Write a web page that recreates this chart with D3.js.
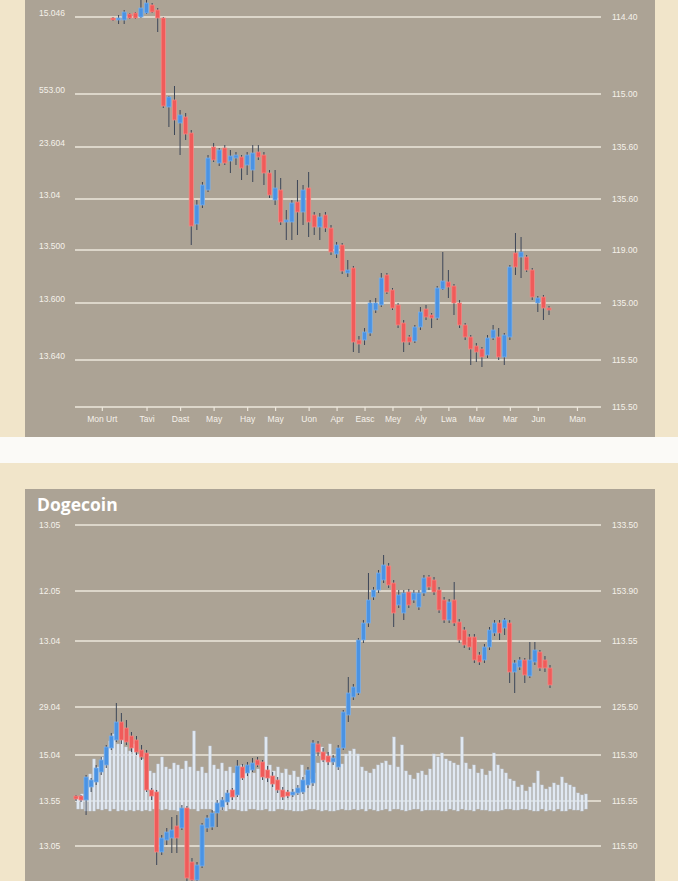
<!DOCTYPE html>
<html><head><meta charset="utf-8">
<script src="https://cdn.jsdelivr.net/npm/d3@7"></script>
<style>html,body{margin:0;padding:0;background:#f1e5ca;}svg{display:block;}</style>
</head><body>
<script>
// ---------- DATA ----------
// Top chart candles: [open, high, low, close]
const topCandles = [
[15.82,15.83,15.79,15.80],[15.80,15.85,15.76,15.82],[15.80,15.90,15.76,15.88],[15.86,15.87,15.81,15.82],
[15.87,15.88,15.81,15.82],[15.83,16.00,15.82,15.92],[15.87,16.02,15.86,15.97],[15.95,15.97,15.87,15.88],
[15.90,15.92,15.68,15.82],[15.82,15.83,14.92,14.94],[14.93,15.04,14.73,15.03],[15.00,15.14,14.65,14.80],
[14.77,14.90,14.45,14.85],[14.83,14.87,14.60,14.66],[14.67,14.70,13.55,13.74],[13.76,14.00,13.70,13.95],
[13.95,14.18,13.92,14.15],[14.10,14.45,14.08,14.42],[14.53,14.57,14.38,14.40],[14.37,14.52,14.34,14.50],
[14.52,14.55,14.35,14.37],[14.39,14.50,14.27,14.44],[14.42,14.48,14.35,14.45],[14.43,14.45,14.20,14.32],
[14.35,14.48,14.25,14.45],[14.30,14.55,14.18,14.47],[14.48,14.55,14.40,14.43],[14.45,14.48,14.15,14.27],
[14.27,14.30,14.02,14.05],[14.00,14.30,13.95,14.12],[14.10,14.22,13.75,13.78],[13.78,13.90,13.60,13.80],
[13.78,14.00,13.60,13.97],[13.98,14.20,13.65,13.88],[13.88,14.15,13.75,14.10],[14.12,14.28,13.63,13.78],
[13.85,13.88,13.65,13.73],[13.73,13.87,13.60,13.83],[13.85,13.88,13.68,13.72],[13.72,13.75,13.45,13.48],
[13.46,13.58,13.42,13.55],[13.55,13.57,13.26,13.29],[13.27,13.40,13.23,13.30],[13.32,13.34,12.48,12.58],
[12.60,12.64,12.47,12.56],[12.60,12.72,12.55,12.68],[12.67,13.00,12.64,12.97],[12.90,13.02,12.87,12.97],
[12.95,13.27,12.93,13.22],[13.25,13.27,13.06,13.08],[13.10,13.12,12.90,12.92],[12.95,12.97,12.72,12.75],
[12.77,12.80,12.48,12.58],[12.63,12.65,12.55,12.58],[12.59,12.75,12.57,12.73],[12.73,12.93,12.70,12.88],
[12.91,12.95,12.80,12.83],[12.85,12.87,12.72,12.82],[12.82,13.14,12.80,13.12],[13.11,13.48,13.10,13.19],
[13.18,13.30,13.02,13.13],[13.14,13.16,12.85,12.97],[12.97,13.00,12.72,12.75],[12.75,12.77,12.60,12.63],
[12.63,12.65,12.35,12.51],[12.54,12.57,12.38,12.48],[12.51,12.53,12.33,12.43],[12.45,12.65,12.42,12.62],
[12.62,12.75,12.60,12.70],[12.63,12.72,12.40,12.43],[12.43,12.67,12.35,12.65],[12.63,13.35,12.60,13.33],
[13.47,13.67,13.25,13.33],[13.43,13.63,13.22,13.48],[13.43,13.45,13.28,13.30],[13.30,13.32,13.00,13.03],
[12.97,13.04,12.88,13.02],[13.03,13.05,12.80,12.92],[12.92,12.94,12.85,12.90]
];
const topGridValues = [15.83,15.06,14.53,14.01,13.50,12.97,12.40,11.93];
const topLeftLabels = ["15.046","553.00","23.604","13.04","13.500","13.600","13.640"];
const topRightLabels = ["114.40","115.00","135.60","135.60","119.00","135.00","115.50","115.50"];
const topTickIndex = [-2,6,12,18,24,29,35,40,45,50,55,60,65,71,76,83];
const topTickLabels = ["Mon Urt","Tavi","Dast","May","Hay","May","Uon","Apr","Easc","Mey","Aly","Lwa","Mav","Mar","Jun","Man"];

// Dogecoin candles: [open, high, low, close]
const dogeCandles = [
[0.204,0.205,0.199,0.201],[0.204,0.205,0.198,0.200],[0.200,0.225,0.185,0.223],[0.213,0.222,0.208,0.220],
[0.218,0.235,0.215,0.232],[0.228,0.243,0.225,0.240],[0.235,0.255,0.232,0.253],[0.252,0.267,0.250,0.264],
[0.260,0.297,0.258,0.278],[0.278,0.287,0.256,0.260],[0.272,0.280,0.255,0.258],[0.264,0.268,0.248,0.252],
[0.260,0.264,0.245,0.248],[0.250,0.255,0.240,0.243],[0.247,0.250,0.208,0.210],[0.210,0.212,0.200,0.204],
[0.208,0.210,0.135,0.148],[0.148,0.165,0.145,0.162],[0.160,0.172,0.155,0.168],[0.162,0.183,0.147,0.170],
[0.174,0.185,0.147,0.162],[0.172,0.195,0.170,0.192],[0.192,0.194,0.119,0.122],[0.138,0.142,0.115,0.120],
[0.120,0.138,0.114,0.135],[0.134,0.177,0.132,0.175],[0.172,0.185,0.168,0.182],[0.173,0.190,0.170,0.187],
[0.187,0.200,0.173,0.197],[0.193,0.203,0.190,0.200],[0.198,0.210,0.195,0.207],[0.210,0.212,0.200,0.203],
[0.205,0.240,0.203,0.234],[0.233,0.236,0.220,0.222],[0.227,0.238,0.224,0.235],[0.230,0.242,0.228,0.237],
[0.240,0.243,0.233,0.235],[0.238,0.240,0.220,0.223],[0.230,0.234,0.218,0.222],[0.224,0.228,0.213,0.216],
[0.220,0.223,0.207,0.210],[0.210,0.213,0.200,0.203],[0.208,0.210,0.202,0.204],[0.205,0.211,0.203,0.208],
[0.207,0.215,0.205,0.212],[0.208,0.223,0.206,0.220],[0.215,0.233,0.212,0.230],[0.217,0.260,0.214,0.257],
[0.256,0.259,0.244,0.248],[0.248,0.252,0.238,0.240],[0.244,0.248,0.235,0.238],[0.238,0.245,0.235,0.242],
[0.233,0.255,0.230,0.252],[0.252,0.290,0.250,0.288],[0.285,0.323,0.278,0.307],[0.303,0.316,0.300,0.313],
[0.307,0.362,0.305,0.360],[0.360,0.380,0.357,0.377],[0.377,0.427,0.373,0.400],[0.403,0.413,0.400,0.410],
[0.410,0.430,0.407,0.427],[0.420,0.445,0.417,0.435],[0.434,0.437,0.412,0.415],[0.417,0.420,0.373,0.387],
[0.395,0.410,0.392,0.405],[0.387,0.410,0.380,0.407],[0.408,0.411,0.392,0.395],[0.400,0.410,0.397,0.407],
[0.393,0.410,0.390,0.407],[0.407,0.425,0.404,0.422],[0.423,0.425,0.410,0.413],[0.420,0.423,0.405,0.408],
[0.410,0.413,0.387,0.390],[0.400,0.403,0.377,0.380],[0.380,0.401,0.377,0.398],[0.400,0.418,0.374,0.377],
[0.378,0.381,0.357,0.360],[0.370,0.373,0.352,0.355],[0.363,0.366,0.350,0.353],[0.363,0.366,0.337,0.340],
[0.345,0.348,0.335,0.338],[0.340,0.356,0.337,0.353],[0.353,0.373,0.350,0.370],[0.367,0.380,0.364,0.377],
[0.377,0.380,0.360,0.367],[0.372,0.382,0.365,0.380],[0.377,0.380,0.317,0.328],[0.328,0.340,0.307,0.337],
[0.333,0.343,0.330,0.340],[0.340,0.342,0.317,0.325],[0.324,0.358,0.322,0.340],[0.338,0.358,0.335,0.350],
[0.348,0.350,0.329,0.332],[0.340,0.344,0.328,0.332],[0.332,0.335,0.312,0.315]
];
const dogeVolume = [
12,15,20,35,50,42,52,60,68,75,65,70,62,58,65,55,50,40,38,36,45,52,42,40,46,44,40,48,42,78,
38,42,36,63,44,40,46,38,42,36,40,44,38,42,36,40,46,72,44,38,42,36,40,34,38,32,44,34,30,36,
46,62,55,65,50,52,45,55,58,60,55,42,38,36,40,44,46,48,44,72,42,64,38,34,30,36,38,34,40,55,
52,56,50,48,46,44,72,46,40,44,36,40,34,38,56,44,40,36,30,28,22,24,18,22,26,38,24,20,22,26,
24,32,26,24,22,16,14,15
];
const dogeGridValues = [0.475,0.409,0.359,0.293,0.245,0.199,0.154];
const dogeLeftLabels = ["13.05","12.05","13.04","29.04","15.04","13.55","13.05"];
const dogeRightLabels = ["133.50","153.90","113.55","125.50","115.30","115.55","115.50"];

// ---------- DRAW ----------
const W = 678, H = 881;
const svg = d3.select("body").append("svg").attr("width", W).attr("height", H);
const C = {cream:"#f1e5ca", panel:"#aca395", grid:"#ede7dc", text:"#f5f1ea",
  up:"#4a93e4", upEdge:"#7fb3ec", down:"#f05b5a", downEdge:"#f78a86", wick:"#3c4658"};

svg.append("rect").attr("width",W).attr("height",H).attr("fill",C.cream);
svg.append("rect").attr("x",25).attr("y",0).attr("width",630).attr("height",437).attr("fill",C.panel);
svg.append("rect").attr("x",0).attr("y",437).attr("width",W).attr("height",26).attr("fill","#fbfaf7");
svg.append("rect").attr("x",25).attr("y",489).attr("width",630).attr("height",H-489).attr("fill",C.panel);

const font = "'Liberation Sans', Arial, sans-serif";

function drawGrid(g, y, values, leftLabels, rightLabels, leftDy) {
  g.selectAll(".gl").data(values).join("line")
    .attr("x1",75).attr("x2",601).attr("y1",d=>y(d)).attr("y2",d=>y(d))
    .attr("stroke",C.grid).attr("stroke-width",1.4);
  g.selectAll(".ll").data(leftLabels).join("text")
    .attr("x",39).attr("y",(d,i)=>y(values[i])+leftDy).attr("dy","0.35em")
    .attr("fill",C.text).attr("font-family",font).attr("font-size",8.5).text(d=>d);
  g.selectAll(".rl").data(rightLabels).join("text")
    .attr("x",612).attr("y",(d,i)=>y(values[i])).attr("dy","0.35em")
    .attr("fill",C.text).attr("font-family",font).attr("font-size",8.5).text(d=>d);
}

function drawCandles(g, x, y, data, bw) {
  const c = g.selectAll("g.c").data(data).join("g");
  c.append("line").attr("x1",(d,i)=>x(i)).attr("x2",(d,i)=>x(i))
    .attr("y1",d=>y(d[1])).attr("y2",d=>y(d[2]))
    .attr("stroke",C.wick).attr("stroke-width",1);
  c.append("rect").attr("x",(d,i)=>x(i)-bw/2).attr("width",bw)
    .attr("y",d=>y(Math.max(d[0],d[3])))
    .attr("height",d=>Math.max(2,Math.abs(y(d[0])-y(d[3]))))
    .attr("fill",d=>d[3]>=d[0]?C.up:C.down)
    .attr("stroke",d=>d[3]>=d[0]?C.upEdge:C.downEdge).attr("stroke-width",0.7);
}

// Top chart
const gTop = svg.append("g");
const yTop = d3.scaleLinear().domain([15.83, 11.93]).range([17, 407]);
const xTop = d3.scaleLinear().domain([0, topCandles.length-1]).range([113, 549]);
drawGrid(gTop, yTop, topGridValues, topLeftLabels, topRightLabels, -4);
const xAxis = d3.axisBottom(xTop).tickValues(topTickIndex)
  .tickFormat((d,i)=>topTickLabels[i]).tickSize(4).tickPadding(5);
const ax = gTop.append("g").attr("transform","translate(0,407)").call(xAxis);
ax.select(".domain").remove();
ax.selectAll("line").attr("stroke",C.grid).attr("stroke-width",1.2);
ax.selectAll("text").attr("fill",C.text).attr("font-family",font).attr("font-size",8.5);
const gTopC = gTop.append("g");
drawCandles(gTopC, xTop, yTop, topCandles, 4.2);

// Dogecoin chart
const gB = svg.append("g");
svg.append("text").attr("x",37).attr("y",511).attr("fill","#ffffff")
  .attr("font-family","'Open Sans', sans-serif").attr("font-weight",700).attr("font-size",17.5)
  .text("Dogecoin");
const yB = d3.scaleLinear().domain([0.475, 0.154]).range([525, 846]);
const xB = d3.scaleLinear().domain([0, dogeCandles.length-1]).range([76, 550]);
drawGrid(gB, yB, dogeGridValues, dogeLeftLabels, dogeRightLabels, 0);
const xV = d3.scaleLinear().domain([0, dogeVolume.length-1]).range([78, 586]);
const yV = d3.scaleLinear().domain([0, 108]).range([809, 701]);
gB.append("g").selectAll("rect").data(dogeVolume).join("rect")
  .attr("x",(d,i)=>xV(i)-1.2).attr("width",2.4)
  .attr("y",d=>yV(d)).attr("height",d=>yV(0)-yV(d)+ (d%3))
  .attr("fill","#e0e8f2").attr("stroke","#c9d6e8").attr("stroke-width",0.4);
const gBC = gB.append("g");
drawCandles(gBC, xB, yB, dogeCandles, 4.2);
</script>
</body></html>
